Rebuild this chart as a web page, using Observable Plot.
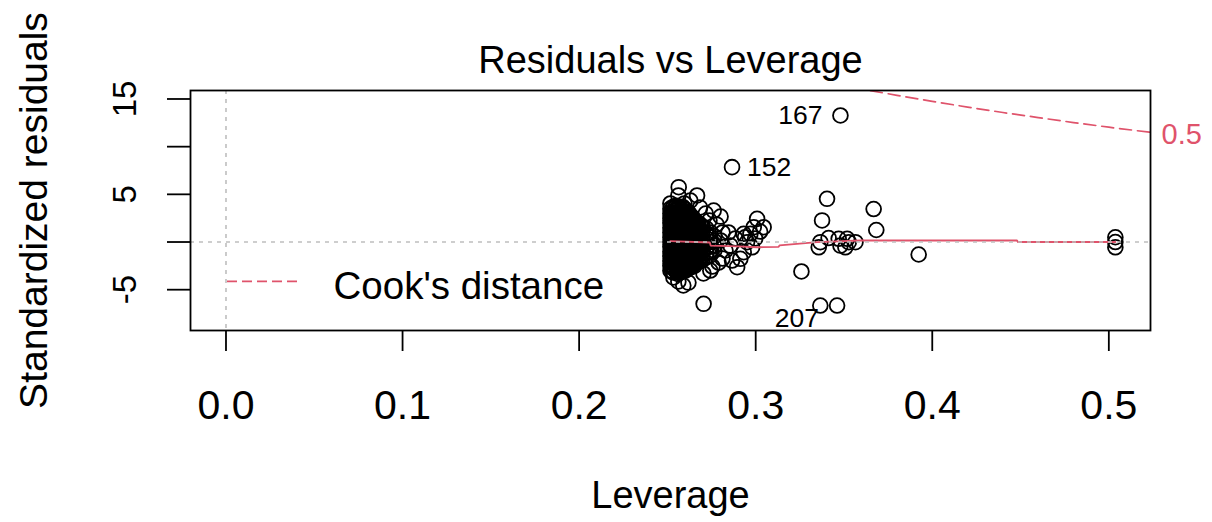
<!DOCTYPE html>
<html>
<head>
<meta charset="utf-8">
<script src="https://cdn.jsdelivr.net/npm/d3@7"></script>
<script src="https://cdn.jsdelivr.net/npm/@observablehq/plot@0.6"></script>
<style>
  html, body { margin: 0; padding: 0; background: #ffffff; }
  #chart { width: 1212px; height: 522px; }
</style>
</head>
<body>
<div id="chart"></div>
<script>
// ---------- data ----------
// dense cluster: one leverage value per column, with the residuals read in that column
const blobLeverage = [
  0.2517, 0.2526, 0.2534, 0.2543, 0.2551, 0.2560, 0.2568, 0.2577, 0.2585, 0.2594,
  0.2602, 0.2611, 0.2619, 0.2628, 0.2636, 0.2645, 0.2653, 0.2664, 0.2675, 0.2687,
  0.2698, 0.2721, 0.2743, 0.2766
];
const blobResiduals = [
  [3.5, 3.0, 2.5, 2.0, 1.5, 1.0, 0.5, 0.0, -0.5, -1.0, -1.5, -2.0, -2.5, -3.0],
  [3.45, 2.95, 2.45, 1.95, 1.45, 0.95, 0.45, -0.05, -0.55, -1.05, -1.55, -2.05, -2.55, -3.05],
  [3.7, 3.25, 2.75, 2.25, 1.75, 1.25, 0.75, 0.25, -0.25, -0.75, -1.25, -1.75, -2.25, -2.75, -3.2],
  [3.55, 3.05, 2.55, 2.05, 1.55, 1.05, 0.55, 0.05, -0.45, -0.95, -1.45, -1.95, -2.45, -2.95],
  [3.8, 3.3, 2.9, 2.4, 1.9, 1.4, 0.9, 0.4, -0.1, -0.6, -1.1, -1.6, -2.1, -2.6, -3.1],
  [3.6, 3.1, 2.6, 2.1, 1.6, 1.1, 0.6, 0.1, -0.4, -0.9, -1.4, -1.9, -2.4, -2.9, -3.35],
  [3.6, 3.15, 2.65, 2.15, 1.65, 1.15, 0.65, 0.15, -0.35, -0.85, -1.35, -1.85, -2.35, -2.85, -3.2],
  [3.45, 2.9, 2.4, 1.9, 1.4, 0.9, 0.4, -0.1, -0.6, -1.1, -1.6, -2.1, -2.6, -3.0],
  [3.7, 3.2, 2.7, 2.2, 1.7, 1.2, 0.7, 0.2, -0.3, -0.8, -1.3, -1.8, -2.3, -2.8, -3.1],
  [3.5, 2.95, 2.45, 1.95, 1.45, 0.95, 0.45, -0.05, -0.55, -1.05, -1.55, -2.05, -2.55, -2.95],
  [3.4, 2.95, 2.45, 1.95, 1.45, 0.95, 0.45, -0.05, -0.55, -1.05, -1.55, -2.05, -2.55, -3.0],
  [3.2, 2.7, 2.2, 1.7, 1.2, 0.7, 0.2, -0.3, -0.8, -1.3, -1.8, -2.3, -2.8],
  [3.1, 2.6, 2.1, 1.6, 1.1, 0.6, 0.1, -0.4, -0.9, -1.4, -1.9, -2.4, -2.8],
  [2.85, 2.35, 1.85, 1.35, 0.85, 0.35, -0.15, -0.65, -1.15, -1.65, -2.15, -2.6],
  [2.7, 2.25, 1.75, 1.25, 0.75, 0.25, -0.25, -0.75, -1.25, -1.75, -2.25, -2.6],
  [2.5, 2.0, 1.5, 1.0, 0.5, 0.0, -0.5, -1.0, -1.5, -2.0, -2.4],
  [2.3, 1.8, 1.3, 0.8, 0.3, -0.2, -0.7, -1.2, -1.7, -2.2, -2.5],
  [2.1, 1.6, 1.1, 0.6, 0.1, -0.4, -0.9, -1.4, -1.9, -2.2],
  [2.0, 1.55, 1.05, 0.55, 0.05, -0.45, -0.95, -1.45, -1.95],
  [1.8, 1.3, 0.8, 0.3, -0.2, -0.7, -1.2, -1.7, -2.0],
  [1.6, 1.1, 0.6, 0.1, -0.4, -0.9, -1.4, -1.9],
  [1.4, 0.9, 0.4, -0.1, -0.6, -1.1, -1.6],
  [1.0, 0.5, 0.0, -0.5, -1.0, -1.4],
  [0.6, 0.1, -0.4, -0.9]
];
// individually visible observations
const pointLeverage = [
  0.2564, 0.2562, 0.2668, 0.2517, 0.2630, 0.2596, 0.2685,
  0.2717, 0.2762, 0.2801, 0.2738, 0.2778, 0.2812, 0.2801, 0.2829, 0.2857, 0.2812, 0.2885, 0.2846, 0.2790, 0.2755,
  0.3008, 0.3045, 0.2989, 0.2970, 0.2932, 0.2951, 0.2980, 0.2932, 0.2913, 0.2895, 0.2866, 0.2940, 0.3025, 0.2997,
  0.2534, 0.2590, 0.2619, 0.2704, 0.2743, 0.2562, 0.2705,
  0.2866, 0.3480, 0.3404, 0.3668, 0.3376, 0.3683, 0.3259, 0.3366, 0.3461,
  0.3366, 0.3357, 0.3413, 0.3470, 0.3480, 0.3518, 0.3508, 0.3565, 0.3527,
  0.3923, 0.5037, 0.5037, 0.5037
];
const pointResidual = [
  5.75, 4.88, 4.88, 4.04, 4.35, 4.04, 3.62,
  2.99, 3.30, 2.67, 2.26, 1.84, 1.00, 0.16, -0.89, -0.37, -1.73, 0.37, 1.00, -2.15, -2.57,
  2.43, 1.55, 1.55, 0.86, 0.86, -0.02, -0.55, -1.07, -1.76, -2.64, -1.94, 0.50, 1.10, 0.37,
  -3.72, -4.56, -4.25, -3.30, -2.99, -4.14, -6.48,
  7.85, 13.27, 4.53, 3.46, 2.26, 1.26, -3.09, -6.66, -6.66,
  -0.02, -0.55, 0.42, 0.34, -0.37, 0.34, -0.55, -0.02, -0.02,
  -1.31, 0.50, -0.55, 0.0
];
// labelled observations
const labelIds = ["167", "152", "207"];
const labelLeverage = [0.3480, 0.2866, 0.3461];
const labelResidual = [13.27, 7.85, -6.66];
const labelSide = ["left", "right", "left"];
// red smoother
const smoothLeverage = [0.2517, 0.2740, 0.2745, 0.2900, 0.3008, 0.3130, 0.3135, 0.3348, 0.3593, 0.4480, 0.4485, 0.5037];
const smoothResidual = [0.10, -0.05, -0.37, -0.45, -0.55, -0.50, -0.35, -0.02, 0.16, 0.16, 0.0, 0.0];
// Cook's distance 0.5 contour
const cookLeverage = [0.365, 0.38, 0.40, 0.42, 0.44, 0.46, 0.48, 0.50, 0.5236];
const cookResidual = [15.88, 15.38, 14.75, 14.15, 13.58, 13.05, 12.53, 12.04, 11.50];
const cookLevel = "0.5";
// axes
const xTicks = [0.0, 0.1, 0.2, 0.3, 0.4, 0.5];
const yTicks = [-5, 0, 5, 10, 15];
const yTickLabels = [15, 5, -5];
const titleText = "Residuals vs Leverage";
const xTitle = "Leverage";
const yTitle = "Standardized residuals";
const legendText = "Cook's distance";

// ---------- build tables ----------
const points = [];
blobLeverage.forEach((h, i) => blobResiduals[i].forEach(r => points.push({h, r})));
pointLeverage.forEach((h, i) => points.push({h, r: pointResidual[i]}));
const labels = labelIds.map((id, i) => ({id, h: labelLeverage[i], r: labelResidual[i], side: labelSide[i]}));
const smooth = smoothLeverage.map((h, i) => ({h, r: smoothResidual[i]}));
const cook = cookLeverage.map((h, i) => ({h, r: cookResidual[i]}));

const RED = "#DF536B";
const GRAY = "#BEBEBE";
const FONT = "'Liberation Sans', Arial, Helvetica, sans-serif";

const legendLine = (index, scales, values, dims) => {
  const y = dims.height - dims.marginBottom - 48.7;
  return d3.create("svg:line")
    .attr("x1", dims.marginLeft + 37).attr("x2", dims.marginLeft + 107)
    .attr("y1", y).attr("y2", y)
    .attr("stroke", RED).attr("stroke-width", 1.7)
    .attr("stroke-dasharray", "10,5").node();
};

const chart = Plot.plot({
  width: 1212,
  height: 522,
  marginLeft: 190,
  marginRight: 62,
  marginTop: 90,
  marginBottom: 192,
  x: {domain: [-0.0201, 0.5236]},
  y: {domain: [-9.28, 15.89]},
  style: {fontFamily: FONT, background: "#ffffff", color: "#000000", overflow: "visible"},
  marks: [
    Plot.dot(points, {x: "h", y: "r", r: 7.4, stroke: "#000000", strokeWidth: 1.8, fill: "none"}),
    Plot.line(smooth, {x: "h", y: "r", stroke: RED, strokeWidth: 1.8}),
    Plot.ruleY([0], {stroke: GRAY, strokeWidth: 1.6, strokeDasharray: "4,5"}),
    Plot.ruleX([0], {stroke: GRAY, strokeWidth: 1.6, strokeDasharray: "4,5"}),
    Plot.line(cook, {x: "h", y: "r", stroke: RED, strokeWidth: 1.7, strokeDasharray: "12,6", clip: true}),
    Plot.text(cook.slice(-1), {x: "h", y: "r", text: () => cookLevel, fill: RED, fontSize: 29, textAnchor: "start", dx: 11, dy: 2}),
    legendLine,
    Plot.text([legendText], {frameAnchor: "bottom-left", dx: 143, dy: -32, textAnchor: "start", lineAnchor: "bottom", fontSize: 38.5, fill: "#000000"}),
    Plot.text(labels.filter(d => d.side === "left" && d.r > 0), {x: "h", y: "r", text: "id", textAnchor: "end", dx: -18, fontSize: 26.5, fill: "#000000"}),
    Plot.text(labels.filter(d => d.side === "right"), {x: "h", y: "r", text: "id", textAnchor: "start", dx: 15, fontSize: 26.5, fill: "#000000"}),
    Plot.text(labels.filter(d => d.side === "left" && d.r < 0), {x: "h", y: "r", text: "id", textAnchor: "end", dx: -18, dy: 13, fontSize: 26.5, fill: "#000000"}),
    Plot.frame({stroke: "#000000", strokeWidth: 1.8}),
    Plot.axisX({ticks: xTicks, tickSize: 21, tickFormat: () => "", label: null, strokeWidth: 1.8}),
    Plot.axisY({ticks: yTicks, tickSize: 23, tickFormat: () => "", label: null, strokeWidth: 1.8}),
    Plot.text(xTicks, {x: d => d, frameAnchor: "bottom", dy: 88, lineAnchor: "bottom", text: d => d.toFixed(1), fontSize: 41, fill: "#000000"}),
    Plot.text(yTickLabels, {y: d => d, frameAnchor: "left", dx: -55, rotate: -90, lineAnchor: "bottom", textAnchor: "middle", text: d => String(d), fontSize: 33, fill: "#000000"}),
    Plot.text([titleText], {frameAnchor: "top", dy: -18, lineAnchor: "bottom", fontSize: 38, fill: "#000000"}),
    Plot.text([xTitle], {frameAnchor: "bottom", dy: 177, lineAnchor: "bottom", fontSize: 38, fill: "#000000"}),
    Plot.text([yTitle], {frameAnchor: "left", dx: -144, rotate: -90, lineAnchor: "bottom", textAnchor: "middle", fontSize: 39, fill: "#000000"})
  ]
});
document.getElementById("chart").appendChild(chart);
</script>
</body>
</html>
